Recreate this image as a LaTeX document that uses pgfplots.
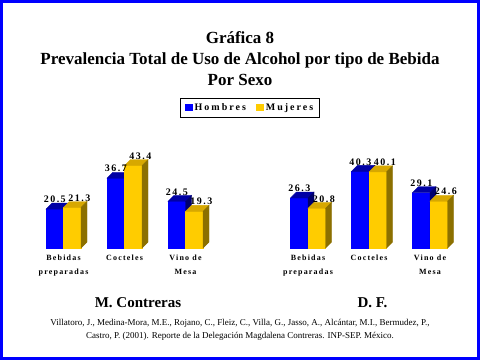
\documentclass[border=0pt]{standalone}
\usepackage{pgfplots}
\pgfplotsset{compat=1.18}
\usepackage{pgfplotstable}
\usepackage{fontspec}
\setmainfont{Liberation Serif}
\newfontfamily\spc[LetterSpace=15]{Liberation Serif}
\newfontfamily\spl[LetterSpace=20]{Liberation Serif}
\definecolor{bfront}{RGB}{0,0,255}
\definecolor{btop}{RGB}{0,0,165}
\definecolor{bside}{RGB}{0,0,110}
\definecolor{yfront}{RGB}{255,204,0}
\definecolor{ytop}{RGB}{215,168,0}
\definecolor{yside}{RGB}{140,112,0}
\definecolor{frameblue}{RGB}{0,0,255}

\pgfplotstableread{
x h m
1 20.5 21.3
2 36.7 43.4
3 24.5 19.3
}\mcdata
\pgfplotstableread{
x h m
1 26.3 20.8
2 40.3 40.1
3 29.1 24.6
}\dfdata

\pgfplotsset{
  deco/.style n args={5}{% left edge, right edge, front, top, side colour
    forget plot, only marks, scatter, mark=*, mark size=0pt,
    visualization depends on={rawy \as \ry},
    scatter/@pre marker code/.code={%
      \fill[#3] (#1,0pt) rectangle (#2,{-\ry*1.9pt});
      \fill[#4] (#1,0pt) -- (#2,0pt) -- ({#2+6pt},6pt) -- ({#1+6pt},6pt) -- cycle;
      \fill[#5] (#2,0pt) -- ({#2+6pt},6pt) -- ({#2+6pt},{6pt-\ry*1.9pt}) -- (#2,{-\ry*1.9pt}) -- cycle;
    },
    scatter/@post marker code/.code={},
  },
  lbl/.style={% label xshift
    forget plot, draw=none, mark=none,
    nodes near coords, point meta=explicit symbolic,
    every node near coord/.append style={anchor=south, inner sep=0pt,
      yshift=6pt, xshift=#1, text=black,
      font=\spc\bfseries\fontsize{10}{10}\selectfont},
  },
  front/.style n args={2}{% shift, colour
    ybar, bar width=17.5pt, bar shift=#1, fill=#2, draw=none,
    legend image code/.code={\fill[##1] (0pt,-3.5pt) rectangle (8pt,4pt);},
  },
  grp/.style={
    anchor=south west, scale only axis, x=61pt, y=1.9pt,
    xmin=0, xmax=4, ymin=0, ymax=60, enlargelimits=false, clip=false,
    axis line style={draw=none}, tick style={draw=none},
    major tick length=0pt, ytick=\empty, xtick={1,2,3},
    xticklabels={{Bebidas\\preparadas},{Cocteles},{Vino de\\Mesa}},
    xticklabel style={align=center, anchor=north, inner sep=0pt, yshift=-7pt,
      font=\spc\bfseries\fontsize{8}{14}\selectfont},
  },
}

\begin{document}
\begin{tikzpicture}[x=1pt,y=1pt]
\path[use as bounding box] (0,0) rectangle (480,360);
\fill[white] (0,0) rectangle (480,360);

\node[font=\bfseries\fontsize{17}{21}\selectfont, anchor=base] at (240,317) {Gráfica 8};
\node[font=\bfseries\fontsize{17}{21}\selectfont, anchor=base] at (240,296) {Prevalencia Total de Uso de Alcohol por tipo de Bebida};
\node[font=\bfseries\fontsize{17}{21}\selectfont, anchor=base] at (240,275) {Por Sexo};

\begin{axis}[grp, at={(2.5pt,112pt)},
  legend columns=2,
  legend style={at={(axis cs:4.057,73.7)}, anchor=center, draw=black, fill=white,
    line width=0.8pt, inner xsep=4pt, inner ysep=3.5pt,
    font=\spl\bfseries\fontsize{10}{10}\selectfont,
    /tikz/every even column/.append style={column sep=8pt}},
]
\addplot[front={-8.75pt}{bfront}] table[x=x, y=h] {\mcdata};
\addlegendentry{Hombres}
\addplot[front={8.75pt}{yfront}] table[x=x, y=m] {\mcdata};
\addlegendentry{Mujeres}
\addplot[deco={-17.5pt}{0pt}{bfront}{btop}{bside}] table[x=x, y=h] {\mcdata};
\addplot[deco={0pt}{17.5pt}{yfront}{ytop}{yside}] table[x=x, y=m] {\mcdata};
\addplot[lbl={-8.75pt}] table[x=x, y=h, meta=h] {\mcdata};
\addplot[lbl={15.75pt}] table[x=x, y=m, meta=m] {\mcdata};
\end{axis}

\begin{axis}[grp, at={(247pt,112pt)}]
\addplot[front={-8.75pt}{bfront}] table[x=x, y=h] {\dfdata};
\addplot[front={8.75pt}{yfront}] table[x=x, y=m] {\dfdata};
\addplot[deco={-17.5pt}{0pt}{bfront}{btop}{bside}] table[x=x, y=h] {\dfdata};
\addplot[deco={0pt}{17.5pt}{yfront}{ytop}{yside}] table[x=x, y=m] {\dfdata};
\addplot[lbl={-8.75pt}] table[x=x, y=h, meta=h] {\dfdata};
\addplot[lbl={15.75pt}] table[x=x, y=m, meta=m] {\dfdata};
\end{axis}

\node[font=\bfseries\fontsize{15}{15}\selectfont, anchor=base] at (138,53) {M. Contreras};
\node[font=\bfseries\fontsize{15}{15}\selectfont, anchor=base] at (372.5,53) {D. F.};

\node[font=\fontsize{9}{13}\selectfont, anchor=base] at (240,35) {Villatoro, J., Medina-Mora, M.E., Rojano, C., Fleiz, C., Villa, G., Jasso, A., Alcántar, M.I., Bermudez, P.,};
\node[font=\fontsize{9}{13}\selectfont, anchor=base] at (240,22) {Castro, P. (2001). Reporte de la Delegación Magdalena Contreras. INP-SEP. México.};

\draw[frameblue, line width=3pt] (1.5,1.5) rectangle (478.5,358.5);
\end{tikzpicture}
\end{document}
